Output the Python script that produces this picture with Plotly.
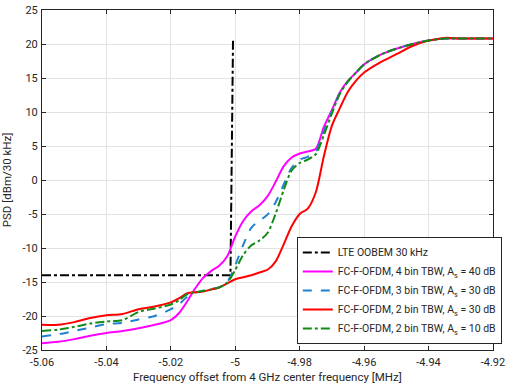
import plotly.graph_objects as go

# Frequency offset grid [MHz] shared by the simulated spectra
freq = [-5.06, -5.055, -5.05, -5.045, -5.04, -5.035, -5.03, -5.025, -5.02, -5.0175,
        -5.015, -5.0125, -5.01, -5.0075, -5.005, -5.0025, -5.0, -4.9975, -4.995, -4.9925,
        -4.99, -4.9875, -4.985, -4.9825, -4.98, -4.9775, -4.975, -4.9725, -4.97, -4.9675,
        -4.965, -4.9625, -4.96, -4.955, -4.95, -4.945, -4.94, -4.935, -4.93, -4.925, -4.92]

# PSD [dBm/30 kHz]
psd_4bin_40 = [-24.0, -23.8, -23.4, -22.9, -22.5, -22.2, -21.8, -21.3, -20.6, -19.6,
               -17.9, -16.0, -14.4, -13.4, -12.6, -11.2, -8.3, -6.0, -4.6, -3.7,
               -2.4, -0.3, 2.0, 3.3, 3.9, 4.2, 4.6, 7.8, 10.3, 12.9,
               14.6, 15.8, 17.0, 18.4, 19.3, 20.0, 20.5, 20.8, 20.8, 20.8, 20.8]
psd_3bin_30 = [-23.0, -22.7, -22.2, -21.7, -21.2, -21.0, -20.5, -20.0, -19.0, -18.3,
               -17.2, -16.6, -16.3, -16.0, -15.8, -15.0, -12.5, -9.5, -7.0, -6.0,
               -5.1, -3.3, -0.7, 1.8, 3.0, 3.4, 4.2, 7.2, 10.1, 12.8,
               14.5, 15.8, 17.0, 18.4, 19.3, 20.0, 20.5, 20.8, 20.8, 20.8, 20.8]
psd_2bin_30 = [-21.3, -21.3, -20.9, -20.3, -19.9, -19.7, -19.0, -18.6, -18.0, -17.4,
               -16.7, -16.5, -16.4, -16.1, -15.8, -15.2, -14.6, -14.3, -14.0, -13.6,
               -13.2, -12.0, -9.5, -6.8, -5.0, -4.2, -1.8, 3.5, 8.0, 10.6,
               13.0, 14.6, 15.8, 17.3, 18.5, 19.7, 20.5, 20.9, 20.8, 20.8, 20.8]
psd_2bin_10 = [-22.2, -22.0, -21.6, -21.1, -20.8, -20.6, -19.4, -18.9, -18.3, -17.7,
               -16.8, -16.5, -16.3, -16.1, -15.8, -15.1, -13.2, -11.0, -9.6, -8.9,
               -7.8, -5.0, -1.5, 1.4, 2.5, 3.0, 3.8, 6.6, 9.8, 12.7,
               14.5, 15.8, 17.0, 18.4, 19.3, 20.0, 20.5, 20.8, 20.8, 20.8, 20.8]

# LTE out-of-band emission mask
mask_freq = [-5.06, -5.0015, -5.0007]
mask_psd = [-14.0, -14.0, 20.7]

x_ticks = [-5.06, -5.04, -5.02, -5.0, -4.98, -4.96, -4.94, -4.92]
x_ticktext = ["-5.06", "-5.04", "-5.02", "-5", "-4.98", "-4.96", "-4.94", "-4.92"]
y_ticks = [-25, -20, -15, -10, -5, 0, 5, 10, 15, 20, 25]
y_ticktext = ["-25", "-20", "-15", "-10", "-5", "0", "5", "10", "15", "20", "25"]

FONT = "Roboto, sans-serif"
AXIS_COLOR = "#262626"

fig = go.Figure()
fig.add_trace(go.Scatter(x=mask_freq, y=mask_psd, mode="lines", name="LTE OOBEM 30 kHz",
                         line=dict(color="black", width=2, dash="dashdot")))
fig.add_trace(go.Scatter(x=freq, y=psd_4bin_40, mode="lines",
                         name="FC-F-OFDM, 4 bin TBW, A<sub>s</sub> = 40 dB",
                         line=dict(color="#ff00ff", width=2, shape="spline", smoothing=0.8)))
fig.add_trace(go.Scatter(x=freq, y=psd_3bin_30, mode="lines",
                         name="FC-F-OFDM, 3 bin TBW, A<sub>s</sub> = 30 dB",
                         line=dict(color="#1f80d0", width=2, dash="dash", shape="spline", smoothing=0.8)))
fig.add_trace(go.Scatter(x=freq, y=psd_2bin_30, mode="lines",
                         name="FC-F-OFDM, 2 bin TBW, A<sub>s</sub> = 30 dB",
                         line=dict(color="#ff0000", width=2, shape="spline", smoothing=0.8)))
fig.add_trace(go.Scatter(x=freq, y=psd_2bin_10, mode="lines",
                         name="FC-F-OFDM, 2 bin TBW, A<sub>s</sub> = 10 dB",
                         line=dict(color="#138a13", width=2, dash="dashdot", shape="spline", smoothing=0.8)))

axis_common = dict(showgrid=True, gridcolor="#e3e3e3", gridwidth=1,
                   showline=True, linecolor=AXIS_COLOR, linewidth=1, mirror="ticks",
                   ticks="inside", ticklen=4, tickcolor=AXIS_COLOR, zeroline=False,
                   automargin=False,
                   tickfont=dict(family=FONT, size=11, color=AXIS_COLOR))

fig.update_xaxes(range=[-5.06, -4.92], tickvals=x_ticks, ticktext=x_ticktext,
                 ticklabelstandoff=2, **axis_common)
fig.update_yaxes(range=[-25, 25], tickvals=y_ticks, ticktext=y_ticktext,
                 ticklabelstandoff=1,
                 title=dict(text="PSD [dBm/30 kHz]",
                            font=dict(family=FONT, size=11.5, color=AXIS_COLOR)),
                 **axis_common)

# x-axis title placed just below the tick labels
fig.add_annotation(text="Frequency offset from 4 GHz center frequency [MHz]",
                   xref="paper", yref="paper", x=0.5, y=0, xanchor="center", yanchor="top",
                   yshift=-18, showarrow=False,
                   font=dict(family=FONT, size=11.5, color=AXIS_COLOR))

fig.update_layout(
    width=507, height=383,
    margin=dict(l=42, r=14, t=10, b=33, autoexpand=False),
    paper_bgcolor="white", plot_bgcolor="white",
    showlegend=True,
    legend=dict(x=0.565, y=0.018, xanchor="left", yanchor="bottom",
                bgcolor="white", bordercolor=AXIS_COLOR, borderwidth=1,
                font=dict(family=FONT, size=10.5, color=AXIS_COLOR),
                itemwidth=30, tracegroupgap=0),
)

fig.write_html("out.html")
